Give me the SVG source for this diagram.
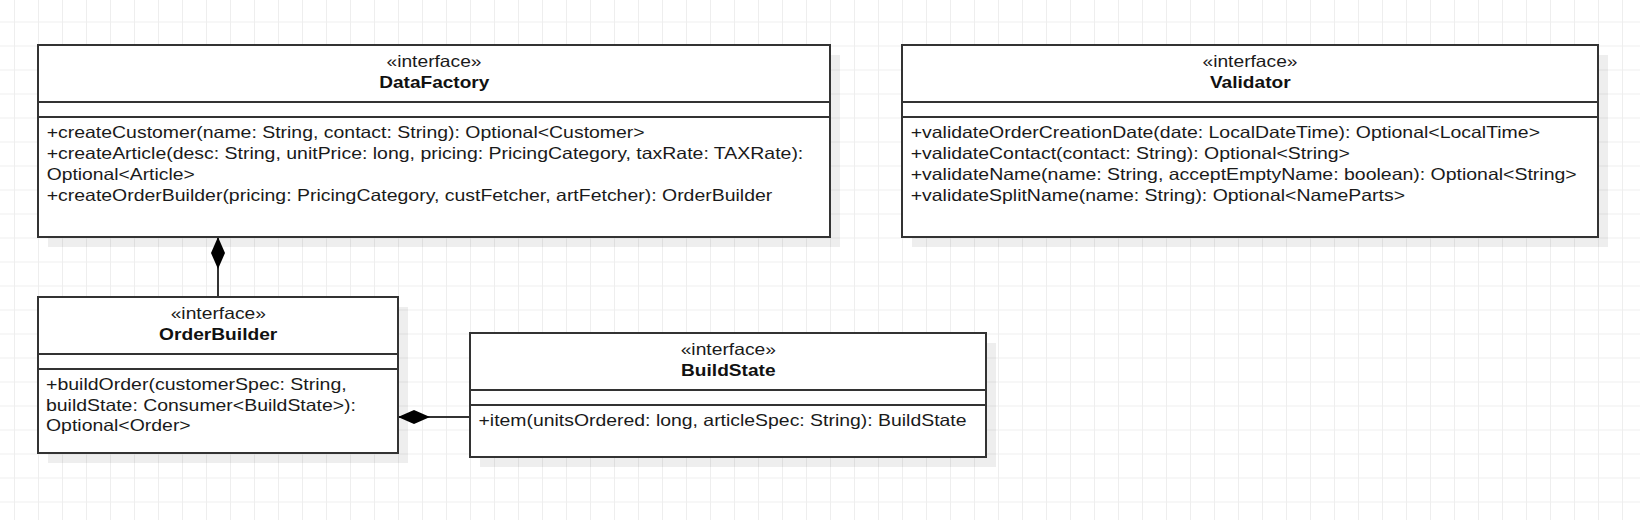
<svg xmlns="http://www.w3.org/2000/svg" width="1640" height="520" viewBox="0 0 1640 520">
  <style>
    .box { fill: #ffffff; stroke: #333333; stroke-width: 2; }
    .shadow { fill: #000000; fill-opacity: 0.065; }
    .div { stroke: #333333; stroke-width: 2; fill: none; }
    .st { font-family: "Liberation Sans", Arial, sans-serif; font-size: 16.5px; fill: #1a1a1a; text-anchor: middle; }
    .nm { font-family: "Liberation Sans", Arial, sans-serif; font-size: 16.5px; font-weight: bold; fill: #111111; text-anchor: middle; }
    .op { font-family: "Liberation Sans", Arial, sans-serif; font-size: 16.5px; fill: #1a1a1a; }
    .conn { stroke: #333333; stroke-width: 2; fill: none; }
  </style>
  <defs>
    <pattern id="grid" x="14" y="21.5" width="24" height="24" patternUnits="userSpaceOnUse">
      <path d="M0.5,0 V24 M0,0.5 H24" stroke="#eeeeee" stroke-width="1" fill="none"/>
    </pattern>
    <marker id="diamond" viewBox="0 0 32 14" refX="0" refY="7" markerWidth="32" markerHeight="14" markerUnits="userSpaceOnUse" orient="auto">
      <path d="M0,7 L16,0 L32,7 L16,14 Z" fill="#000000" stroke="none"/>
    </marker>
  </defs>
  <rect x="0" y="0" width="1640" height="520" fill="#ffffff"/>
  <rect x="0" y="0" width="1640" height="520" fill="url(#grid)"/>

  <g id="connectors">
    <path class="conn" d="M218,237 L218,297" marker-start="url(#diamond)"/>
    <path class="conn" d="M398,417 L470,417" marker-start="url(#diamond)"/>
  </g>

  <g id="DataFactory">
    <rect class="shadow" x="48" y="55" width="792" height="192"/>
    <rect class="box" x="38" y="45" width="792" height="192"/>
    <path class="div" d="M38,102 H830 M38,117 H830"/>
    <text class="st" x="434" y="66.5" textLength="95" lengthAdjust="spacingAndGlyphs">«interface»</text>
    <text class="nm" x="434.3" y="88" textLength="110" lengthAdjust="spacingAndGlyphs">DataFactory</text>
    <text class="op" x="46.7" y="138.3" textLength="598" lengthAdjust="spacingAndGlyphs">+createCustomer(name: String, contact: String): Optional&lt;Customer&gt;</text>
    <text class="op" x="46.7" y="159.1" textLength="756.6" lengthAdjust="spacingAndGlyphs">+createArticle(desc: String, unitPrice: long, pricing: PricingCategory, taxRate: TAXRate):</text>
    <text class="op" x="46.7" y="179.9" textLength="148" lengthAdjust="spacingAndGlyphs">Optional&lt;Article&gt;</text>
    <text class="op" x="46.7" y="200.7" textLength="725.6" lengthAdjust="spacingAndGlyphs">+createOrderBuilder(pricing: PricingCategory, custFetcher, artFetcher): OrderBuilder</text>
  </g>

  <g id="Validator">
    <rect class="shadow" x="912" y="55" width="696" height="192"/>
    <rect class="box" x="902" y="45" width="696" height="192"/>
    <path class="div" d="M902,102 H1598 M902,117 H1598"/>
    <text class="st" x="1250" y="66.5" textLength="95" lengthAdjust="spacingAndGlyphs">«interface»</text>
    <text class="nm" x="1250.3" y="88" textLength="80.7" lengthAdjust="spacingAndGlyphs">Validator</text>
    <text class="op" x="910.7" y="138.3" textLength="629.3" lengthAdjust="spacingAndGlyphs">+validateOrderCreationDate(date: LocalDateTime): Optional&lt;LocalTime&gt;</text>
    <text class="op" x="910.7" y="159.1" textLength="439.3" lengthAdjust="spacingAndGlyphs">+validateContact(contact: String): Optional&lt;String&gt;</text>
    <text class="op" x="910.7" y="179.9" textLength="666" lengthAdjust="spacingAndGlyphs">+validateName(name: String, acceptEmptyName: boolean): Optional&lt;String&gt;</text>
    <text class="op" x="910.7" y="200.7" textLength="494.3" lengthAdjust="spacingAndGlyphs">+validateSplitName(name: String): Optional&lt;NameParts&gt;</text>
  </g>

  <g id="OrderBuilder">
    <rect class="shadow" x="48" y="307" width="360" height="156"/>
    <rect class="box" x="38" y="297" width="360" height="156"/>
    <path class="div" d="M38,354 H398 M38,369 H398"/>
    <text class="st" x="218.3" y="318.5" textLength="95.3" lengthAdjust="spacingAndGlyphs">«interface»</text>
    <text class="nm" x="218.2" y="340.3" textLength="118.3" lengthAdjust="spacingAndGlyphs">OrderBuilder</text>
    <text class="op" x="46" y="390" textLength="300.7" lengthAdjust="spacingAndGlyphs">+buildOrder(customerSpec: String,</text>
    <text class="op" x="46" y="410.5" textLength="310" lengthAdjust="spacingAndGlyphs">buildState: Consumer&lt;BuildState&gt;):</text>
    <text class="op" x="46" y="431" textLength="144.7" lengthAdjust="spacingAndGlyphs">Optional&lt;Order&gt;</text>
  </g>

  <g id="BuildState">
    <rect class="shadow" x="480" y="343" width="516" height="124"/>
    <rect class="box" x="470" y="333" width="516" height="124"/>
    <path class="div" d="M470,390 H986 M470,405 H986"/>
    <text class="st" x="728.3" y="354.7" textLength="95.3" lengthAdjust="spacingAndGlyphs">«interface»</text>
    <text class="nm" x="728.3" y="376.4" textLength="94.5" lengthAdjust="spacingAndGlyphs">BuildState</text>
    <text class="op" x="478.5" y="426.3" textLength="488" lengthAdjust="spacingAndGlyphs">+item(unitsOrdered: long, articleSpec: String): BuildState</text>
  </g>
</svg>
